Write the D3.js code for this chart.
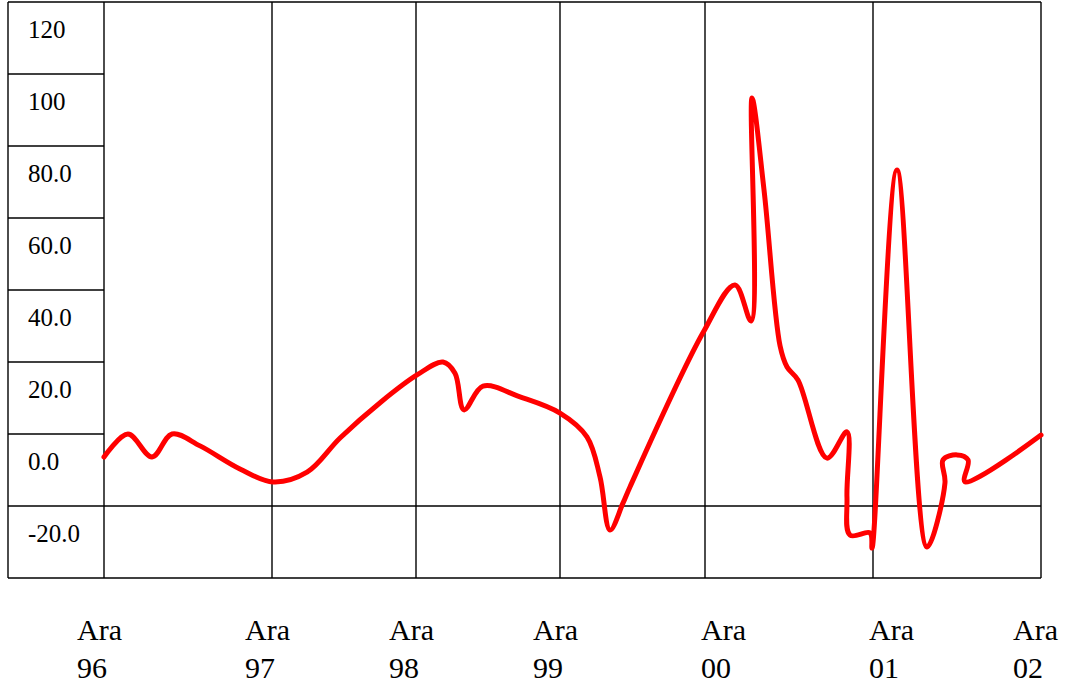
<!DOCTYPE html>
<html>
<head>
<meta charset="utf-8">
<script src="https://cdn.jsdelivr.net/npm/d3@7"></script>
<style>
  html, body { margin: 0; padding: 0; background: #fff; }
  svg { display: block; }
  text { font-family: "Liberation Serif", "Times New Roman", serif; fill: #000; }
</style>
</head>
<body>
<svg id="chart" width="1070" height="686"></svg>
<script>
// ---- data (x = months since Aralık 96, y = value) ----
const months = [0.0, 1.71, 3.43, 4.86, 6.86, 9.71, 12.08, 14.92, 17.67, 21.08,
  24.08, 26.25, 27.25, 28.0, 29.58, 32.67, 36.0, 38.23, 39.31, 40.14,
  41.21, 41.79, 47.83, 50.14, 51.29, 51.36, 52.21, 53.36, 53.86, 54.64,
  56.71, 58.14, 58.14, 58.36, 59.79, 59.93, 61.71, 63.86, 65.14, 65.0,
  66.0, 66.79, 66.57, 72.0];
const values = [1.1, 7.5, 1.1, 7.5, 4.2, -2.2, -5.8, -3.1, 6.4, 16.4,
  23.9, 27.5, 24.4, 14.2, 20.8, 17.8, 13.3, 6.7, -4.4, -19.2,
  -11.7, -7.2, 35.6, 48.9, 38.9, 100.8, 75.5, 32.0, 26.1, 22.5,
  0.8, 8.1, -10.0, -20.6, -20.0, -24.2, 80.8, -23.9, -6.1, 0.3,
  1.7, 0.3, -5.8, 7.2];
const yTicks = [120, 100, 80, 60, 40, 20, 0, -20];
const yTickLabels = ["120", "100", "80.0", "60.0", "40.0", "20.0", "0.0", "-20.0"];
const xTicks = [0, 12, 24, 36, 48, 60, 72];
const xTickMonth = ["Ara", "Ara", "Ara", "Ara", "Ara", "Ara", "Ara"];
const xTickYear = ["96", "97", "98", "99", "00", "01", "02"];

// ---- layout ----
const svg = d3.select("#chart");
const colLeft = 8, plotLeft = 104, plotRight = 1041, plotTop = 2, plotBottom = 578;

const x = d3.scaleLinear().domain(xTicks).range([plotLeft, 272, 416, 560, 705, 873, plotRight]);
const xLabel = d3.scaleLinear().domain(xTicks).range([77, 245, 389, 533, 701, 869, 1013]);
const y = d3.scaleLinear().domain([-32.5, 127.5]).range([plotBottom, plotTop]);

const bands = d3.range(-32.5, 128, 20);
const stroke = "#000", sw = 1.4;

// left label column horizontal lines
svg.append("g").selectAll("line").data(bands).join("line")
  .attr("x1", colLeft).attr("x2", plotLeft)
  .attr("y1", d => y(d)).attr("y2", d => y(d))
  .attr("stroke", stroke).attr("stroke-width", sw);

// plot horizontal lines: borders and one grid line
svg.append("g").selectAll("line").data([-32.5, -12.5, 127.5]).join("line")
  .attr("x1", plotLeft).attr("x2", plotRight)
  .attr("y1", d => y(d)).attr("y2", d => y(d))
  .attr("stroke", stroke).attr("stroke-width", sw);

// vertical lines
svg.append("line").attr("x1", colLeft).attr("x2", colLeft)
  .attr("y1", plotTop).attr("y2", plotBottom).attr("stroke", stroke).attr("stroke-width", sw);
svg.append("g").selectAll("line").data(xTicks).join("line")
  .attr("x1", d => x(d)).attr("x2", d => x(d))
  .attr("y1", plotTop).attr("y2", plotBottom)
  .attr("stroke", stroke).attr("stroke-width", sw);

// y labels
svg.append("g").selectAll("text").data(yTicks).join("text")
  .attr("x", 28).attr("y", d => y(d) + 9)
  .attr("font-size", 25)
  .text((d, i) => yTickLabels[i]);

// x labels
const xl = svg.append("g").selectAll("text").data(xTicks).join("text")
  .attr("x", d => xLabel(d)).attr("y", 640)
  .attr("font-size", 30);
xl.append("tspan").attr("x", d => xLabel(d)).text((d, i) => xTickMonth[i]);
xl.append("tspan").attr("x", d => xLabel(d)).attr("dy", 38).text((d, i) => xTickYear[i]);

// data line
const line = d3.line()
  .x((d, i) => x(months[i]))
  .y((d, i) => y(values[i]))
  .curve(d3.curveCatmullRom.alpha(0.5));
svg.append("path").datum(values)
  .attr("d", line)
  .attr("fill", "none")
  .attr("stroke", "#ff0000")
  .attr("stroke-width", 5)
  .attr("stroke-linejoin", "round")
  .attr("stroke-linecap", "round");
</script>
</body>
</html>
